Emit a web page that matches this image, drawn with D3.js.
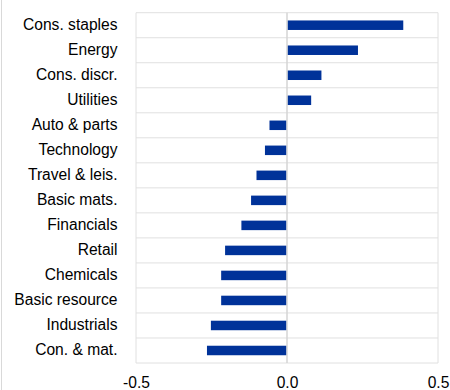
<!DOCTYPE html>
<html>
<head>
<meta charset="utf-8">
<script src="https://cdn.jsdelivr.net/npm/d3@7"></script>
<style>
  html, body { margin: 0; padding: 0; background: #fff; }
  svg { display: block; }
  text { font-family: "Liberation Sans", Arial, sans-serif; fill: #000; }
</style>
</head>
<body>
<svg id="chart" width="450" height="390"></svg>
<script>
const categories = ["Cons. staples", "Energy", "Cons. discr.", "Utilities", "Auto & parts",
  "Technology", "Travel & leis.", "Basic mats.", "Financials", "Retail",
  "Chemicals", "Basic resource", "Industrials", "Con. & mat."];
const values = [0.385, 0.235, 0.114, 0.080, -0.058, -0.073, -0.101, -0.119,
  -0.151, -0.205, -0.218, -0.218, -0.252, -0.265];
const xTicks = [-0.5, 0.0, 0.5];
const xDomain = [-0.5, 0.5];

const svg = d3.select("#chart");
const m = { left: 136, right: 438, top: 12.7, bottom: 363 };
const fontSize = 15.6;

const x = d3.scaleLinear().domain(xDomain).range([m.left, m.right]);
const y = d3.scaleBand().domain(categories).range([m.top, m.bottom]).paddingInner(0.62).paddingOuter(0.31);

// outer left frame line
svg.append("line").attr("x1", 1.5).attr("x2", 1.5).attr("y1", 0).attr("y2", 390)
  .attr("stroke", "#d9d9d9").attr("stroke-width", 1);

const grid = svg.append("g");
const bounds = d3.range(categories.length + 1).map(i => m.top + i * (m.bottom - m.top) / categories.length);
grid.selectAll("line.h").data(bounds).join("line")
  .attr("x1", m.left).attr("x2", m.right)
  .attr("y1", d => d).attr("y2", d => d)
  .attr("stroke", "#e0e0e0").attr("stroke-width", 1);
grid.selectAll("line.v").data(xTicks).join("line")
  .attr("x1", d => x(d)).attr("x2", d => x(d))
  .attr("y1", m.top).attr("y2", m.bottom)
  .attr("stroke", d => d === 0 ? "#d4d4d4" : "#e0e0e0")
  .attr("stroke-width", d => d === 0 ? 1.5 : 1);

// bars
svg.append("g").selectAll("rect").data(categories).join("rect")
  .attr("x", (d, i) => values[i] >= 0 ? x(0) + 0.8 : x(values[i]))
  .attr("width", (d, i) => Math.abs(x(values[i]) - x(0)) - 0.8)
  .attr("y", d => y(d))
  .attr("height", y.bandwidth())
  .attr("fill", "#003299");

// category labels
const yAxis = d3.axisLeft(y).tickSize(0).tickPadding(0);
const yg = svg.append("g").attr("transform", "translate(117.5,0)").call(yAxis);
yg.select(".domain").remove();
yg.selectAll("text").attr("font-size", fontSize).attr("font-family", "Liberation Sans, Arial, sans-serif").attr("fill", "#000");

// x tick labels
const xAxis = d3.axisBottom(x).tickValues(xTicks).tickFormat(d => d.toFixed(1)).tickSize(0).tickPadding(0);
const xg = svg.append("g").attr("transform", "translate(0,376.5)").call(xAxis);
xg.select(".domain").remove();
xg.selectAll("text").attr("font-size", fontSize).attr("font-family", "Liberation Sans, Arial, sans-serif").attr("fill", "#000");
</script>
</body>
</html>
